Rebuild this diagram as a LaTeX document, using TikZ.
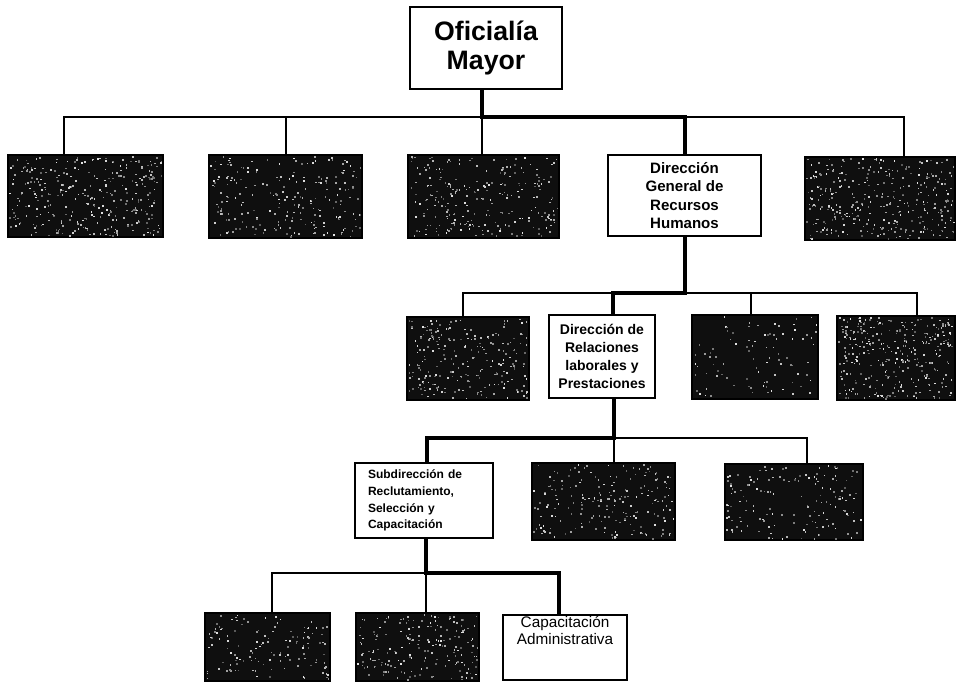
\documentclass[tikz,border=0pt]{standalone}
\usepackage{fontspec}
\setmainfont{Liberation Sans}
\usetikzlibrary{calc}

% grainy fill for the unnamed (blacked-out) units
\newcommand\grain[5]{%
  \foreach \k in {1,...,#5}{%
    \pgfmathsetmacro\sx{#1+1+rnd*(#3-#1-3)}%
    \pgfmathsetmacro\sy{#2+1+rnd*(#4-#2-3)}%
    \pgfmathsetmacro\sg{int(35+rnd*55)}%
    \fill[white!\sg!black] (\sx,\sy) rectangle ++(1.6,1.6);
  }}

\begin{document}
\begin{tikzpicture}[x=0.75pt,y=-0.75pt,
  area/.style n args={4}{minimum width={(#3-#1)*0.75pt},
    minimum height={(#4-#2)*0.75pt}, at={({(#1+#3)/2},{(#2+#4)/2})}},
  orgbox/.style={draw=black, line width=0.9pt, inner sep=0pt, outer sep=0pt},
  lightbox/.style={orgbox, fill=white, align=center},
  darkbox/.style={orgbox, fill=black!94},
  link/.style={line width=0.9pt},
  mainlink/.style={line width=3pt},
]
\fill[white] (0,0) rectangle (956,683);
\useasboundingbox (0,0) rectangle (956,683);
\pgfmathsetseed{17}

% ---- units ----
\node[lightbox, area={410}{7}{562}{89}, font=\fontsize{20}{22}\selectfont\bfseries]
  (top) {Oficialía\\Mayor};

\node[darkbox, area={8}{155}{163}{237}] (r1a) {};
\node[darkbox, area={209}{155}{362}{238}] (r1b) {};
\node[darkbox, area={408}{155}{559}{238}] (r1c) {};
\node[lightbox, area={608}{155}{761}{236}, font=\fontsize{11.3}{13.6}\selectfont\bfseries]
  (dgrh) {Dirección\\General de\\Recursos\\Humanos};
\node[darkbox, area={805}{157}{955}{240}] (r1e) {};

\node[darkbox, area={407}{317}{529}{400}] (r2a) {};
\node[lightbox, area={549}{315}{655}{398}, font=\fontsize{10.5}{13.5}\selectfont\bfseries]
  (drlp) {Dirección de\\Relaciones\\laborales y\\Prestaciones};
\node[darkbox, area={692}{315}{818}{399}] (r2c) {};
\node[darkbox, area={837}{316}{955}{400}] (r2d) {};

\node[lightbox, area={355}{463}{493}{538}, text width=84pt, align=left,
  font=\fontsize{9}{12.5}\selectfont\bfseries]
  (srsc) {Subdirección de\\Reclutamiento,\\Selección y\\Capacitación};
\node[darkbox, area={532}{463}{675}{540}] (r3b) {};
\node[darkbox, area={725}{464}{863}{540}] (r3c) {};

\node[darkbox, area={205}{613}{330}{681}] (r4a) {};
\node[darkbox, area={356}{613}{479}{681}] (r4b) {};
\node[lightbox, area={503}{615}{627}{680}, font=\fontsize{11.5}{13}\selectfont]
  (capa) {Capacitación\\Administrativa\\~\\~};

% ---- grain on the dark units ----
\grain{8}{155}{163}{237}{320}
\grain{209}{155}{362}{238}{220}
\grain{408}{155}{559}{238}{240}
\grain{805}{157}{955}{240}{340}
\grain{407}{317}{529}{400}{230}
\grain{692}{315}{818}{399}{90}
\grain{837}{316}{955}{400}{320}
\grain{532}{463}{675}{540}{200}
\grain{725}{464}{863}{540}{150}
\grain{205}{613}{330}{681}{130}
\grain{356}{613}{479}{681}{190}

% ---- bus coordinates ----
\coordinate (busA-l) at (64,117);
\coordinate (busA-b) at (286,117);
\coordinate (busA-j) at (482,117);
\coordinate (busA-r) at (904,117);

\coordinate (busB-l) at (463,293);
\coordinate (busB-j) at (613,293);
\coordinate (busB-c) at (751,293);
\coordinate (busB-r) at (917,293);

\coordinate (busC-l) at (427,438);
\coordinate (busC-j) at (614,438);
\coordinate (busC-r) at (807,438);

\coordinate (busD-l) at (272,573);
\coordinate (busD-j) at (426,573);
\coordinate (busD-r) at (559,573);

% ---- level 1 ----
\draw[link] (busA-l |- r1a.north) -- (busA-l) -- (busA-r) -- (busA-r |- r1e.north);
\draw[link] (busA-b) -- (busA-b |- r1b.north);
\draw[link] (busA-j) -- (busA-j |- r1c.north);
\draw[mainlink] (busA-j |- top.south) -- (busA-j) -| (dgrh.north);

% ---- level 2 ----
\draw[link] (busB-l |- r2a.north) -- (busB-l) -- (busB-r) -- (busB-r |- r2d.north);
\draw[link] (busB-c) -- (busB-c |- r2c.north);
\draw[mainlink] (dgrh.south) |- (busB-j) -- (busB-j |- drlp.north);

% ---- level 3 ----
\draw[link] (busC-l) -- (busC-r) -- (busC-r |- r3c.north);
\draw[link] (busC-j) -- (busC-j |- r3b.north);
\draw[mainlink] (busC-j |- drlp.south) -- (busC-j) -- (busC-l) -- (busC-l |- srsc.north);

% ---- level 4 ----
\draw[link] (busD-l |- r4a.north) -- (busD-l) -- (busD-j) -- (busD-j |- r4b.north);
\draw[mainlink] (busD-j |- srsc.south) -- (busD-j) -- (busD-r) -- (busD-r |- capa.north);
\end{tikzpicture}
\end{document}
